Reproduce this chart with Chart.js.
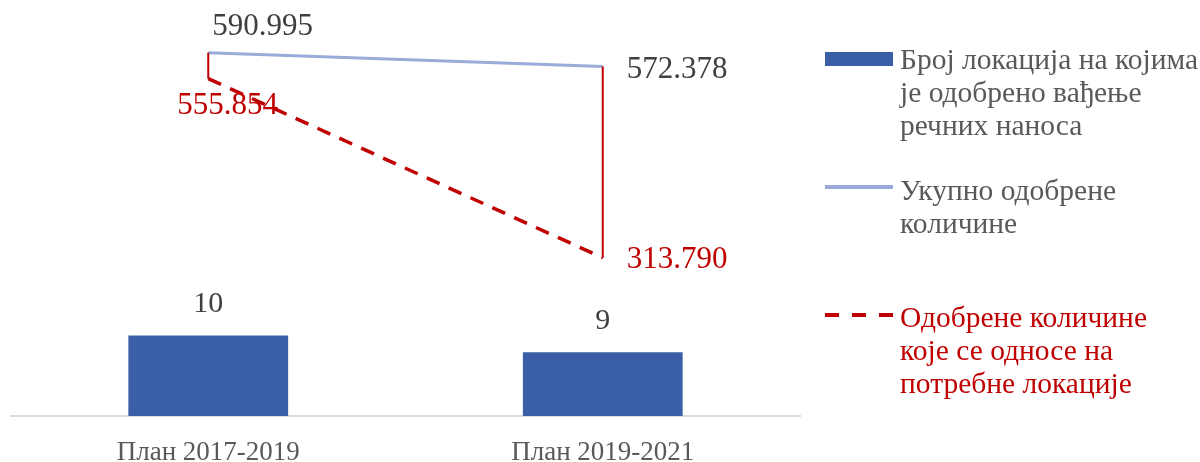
<!DOCTYPE html>
<html>
<head>
<meta charset="utf-8">
<script src="https://cdn.jsdelivr.net/npm/chart.js@4"></script>
<style>
  body { margin: 0; background: #fff; }
  #wrap { position: relative; width: 1200px; height: 462px; }
  #legend { position: absolute; left: 825px; top: 0; font-family: 'Liberation Serif', serif; font-size: 29.5px; line-height: 33px; }
  .item { position: absolute; left: 0; white-space: nowrap; }
  .mark { position: absolute; left: 0; width: 68px; }
  .txt { position: absolute; left: 75px; }
</style>
</head>
<body>
<div id="wrap">
  <canvas id="chart"></canvas>
  <div id="legend"></div>
</div>
<script>
const categories = ['План 2017-2019', 'План 2019-2021'];
const locationCounts = [10, 9];
const totalApproved = [590995, 572378];
const approvedNeeded = [555854, 313790];

const legendText = [
  ['Број локација на којима', 'је одобрено вађење', 'речних наноса'],
  ['Укупно одобрене', 'количине'],
  ['Одобрене количине', 'које се односе на', 'потребне локације']
];

const blue = '#3a5fa6';
const lightBlue = '#9aabd9';
const red = '#c00000';

function fmt(v) {
  return String(v).replace(/\B(?=(\d{3})+(?!\d))/g, '.');
}

// high-low lines between the two line series + data labels
const extras = {
  id: 'extras',
  afterDatasetsDraw(chart) {
    const ctx = chart.ctx;
    const y1 = chart.scales.y1;
    const x = chart.scales.x;
    ctx.save();
    ctx.strokeStyle = red;
    ctx.lineWidth = 2;
    categories.forEach((c, i) => {
      const px = x.getPixelForValue(i);
      const hi = Math.max(totalApproved[i], approvedNeeded[i]);
      const lo = Math.min(totalApproved[i], approvedNeeded[i]);
      ctx.beginPath();
      ctx.moveTo(px, y1.getPixelForValue(hi));
      ctx.lineTo(px, y1.getPixelForValue(lo));
      ctx.stroke();
    });

    ctx.textBaseline = 'middle';
    // bar labels
    ctx.font = '30px "Liberation Serif"';
    ctx.fillStyle = '#404040';
    ctx.textAlign = 'center';
    chart.getDatasetMeta(0).data.forEach((el, i) => {
      ctx.fillText(String(locationCounts[i]), el.x, el.y - 31);
    });

    // line labels
    ctx.font = '31px "Liberation Serif"';
    ctx.textAlign = 'left';
    const offs = [
      [[4, -26], [24, 3]],
      [[-31, 27], [24, 2]]
    ];
    [1, 2].forEach((d, k) => {
      const ds = chart.data.datasets[d];
      ctx.fillStyle = k === 0 ? '#404040' : red;
      chart.getDatasetMeta(d).data.forEach((el, i) => {
        ctx.fillText(fmt(ds.data[i]), el.x + offs[k][i][0], el.y + offs[k][i][1]);
      });
    });
    ctx.restore();
  }
};

const chart = new Chart(document.getElementById('chart'), {
  type: 'bar',
  data: {
    labels: categories,
    datasets: [{
      label: legendText[0].join(' '),
      data: locationCounts,
      backgroundColor: blue,
      yAxisID: 'y',
      categoryPercentage: 1,
      barPercentage: 0.405,
      order: 3
    }, {
      type: 'line',
      label: legendText[1].join(' '),
      data: totalApproved,
      borderColor: lightBlue,
      borderWidth: 3,
      pointRadius: 0,
      yAxisID: 'y1',
      order: 2
    }, {
      type: 'line',
      label: legendText[2].join(' '),
      data: approvedNeeded,
      borderColor: red,
      borderWidth: 3.5,
      borderDash: [14, 10],
      pointRadius: 0,
      yAxisID: 'y1',
      order: 1
    }]
  },
  options: {
    responsive: true,
    maintainAspectRatio: false,
    animation: false,
    layout: {
      padding: { left: 11, right: 400, top: 9, bottom: -27 }
    },
    plugins: {
      legend: { display: false },
      tooltip: { enabled: false }
    },
    scales: {
      x: {
        offset: true,
        grid: { display: false, drawTicks: false },
        border: { color: '#d9d9d9', width: 2 },
        ticks: {
          color: '#595959',
          padding: 23,
          font: { family: 'Liberation Serif', size: 27, lineHeight: 1 }
        }
      },
      y: {
        display: false,
        min: 5.2,
        max: 29.45
      },
      y1: {
        display: false,
        position: 'right',
        min: 100000,
        max: 650000
      }
    }
  },
  plugins: [extras]
});

// html legend
const legend = document.getElementById('legend');
const tops = [43, 174, 301];
chart.data.datasets.forEach((ds, i) => {
  const item = document.createElement('div');
  item.className = 'item';
  item.style.top = tops[i] + 'px';
  const mark = document.createElement('div');
  mark.className = 'mark';
  if (i === 0) {
    mark.style.top = '9px';
    mark.style.height = '14px';
    mark.style.background = ds.backgroundColor;
  } else if (ds.borderDash) {
    mark.style.top = '12px';
    mark.style.height = '4px';
    mark.style.background = 'repeating-linear-gradient(to right, ' + ds.borderColor + ' 0 14px, transparent 14px 27px)';
  } else {
    mark.style.top = '11px';
    mark.style.height = '4px';
    mark.style.background = ds.borderColor;
  }
  const txt = document.createElement('div');
  txt.className = 'txt';
  txt.style.color = i === 2 ? red : '#595959';
  txt.innerHTML = legendText[i].join('<br>');
  item.appendChild(mark);
  item.appendChild(txt);
  legend.appendChild(item);
});
</script>
</body>
</html>
